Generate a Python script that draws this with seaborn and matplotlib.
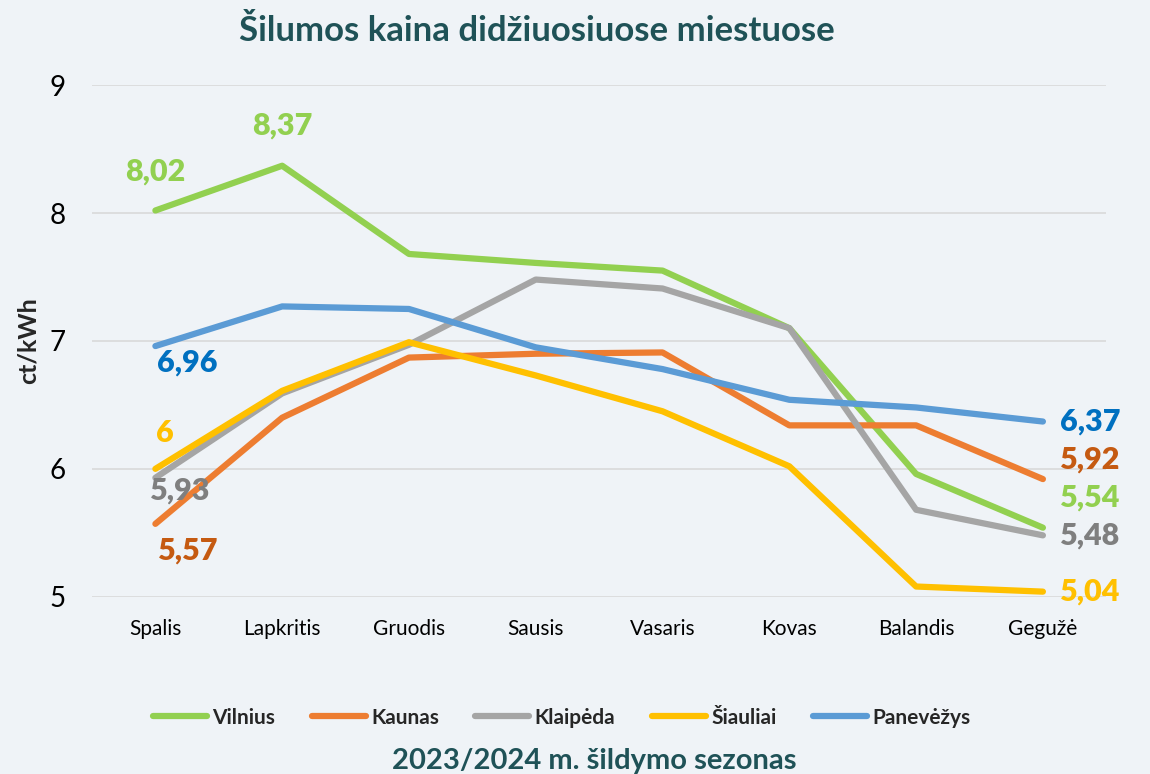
import pandas as pd
import matplotlib.pyplot as plt
import seaborn as sns

# Data
months = ["Spalis", "Lapkritis", "Gruodis", "Sausis", "Vasaris", "Kovas", "Balandis", "Gegužė"]
vilnius = [8.02, 8.37, 7.68, 7.61, 7.55, 7.10, 5.96, 5.54]
kaunas = [5.57, 6.40, 6.87, 6.90, 6.91, 6.34, 6.34, 5.92]
klaipeda = [5.93, 6.59, 6.97, 7.48, 7.41, 7.10, 5.68, 5.48]
siauliai = [6.00, 6.61, 6.99, 6.73, 6.45, 6.02, 5.08, 5.04]
panevezys = [6.96, 7.27, 7.25, 6.95, 6.78, 6.54, 6.48, 6.37]

cities = ["Vilnius", "Kaunas", "Klaipėda", "Šiauliai", "Panevėžys"]
series = [vilnius, kaunas, klaipeda, siauliai, panevezys]
line_colors = ["#92d050", "#ed7d31", "#a5a5a5", "#ffc000", "#5b9bd5"]
label_colors = ["#92d050", "#c55a11", "#7f7f7f", "#ffc000", "#0070c0"]

rows = []
for city, vals in zip(cities, series):
    for m, v in zip(months, vals):
        rows.append({"month": m, "city": city, "value": v})
df = pd.DataFrame(rows)

bg = "#eff3f7"
title_col = "#1f5257"

sns.set_theme(style="white")
plt.rcParams["font.family"] = ["Lato", "DejaVu Sans"]

fig = plt.figure(figsize=(11.5, 7.74), dpi=100, facecolor=bg)
ax = fig.add_axes([0.08, 0.229, 0.882, 0.661], facecolor=bg)

sns.lineplot(data=df, x="month", y="value", hue="city", palette=line_colors,
             linewidth=4.5, sort=False, ax=ax, legend=True)
for ln in ax.lines:
    ln.set_solid_capstyle("round")
    ln.set_solid_joinstyle("round")

ax.set_ylim(5, 9)
ax.set_xlim(-0.5, len(months) - 0.5)
ax.set_yticks([5, 6, 7, 8, 9])
ax.yaxis.grid(True, color="#d9d9d9", linewidth=1.2)
ax.set_axisbelow(True)
for s in ax.spines.values():
    s.set_visible(False)
ax.tick_params(axis="y", labelsize=20, pad=19, length=0, colors="black")
ax.tick_params(axis="x", labelsize=15, pad=16, length=0, colors="black")
ax.set_xlabel("")
ax.set_ylabel("ct/kWh", fontsize=18, fontweight="bold")
ax.yaxis.set_label_coords(-0.052, 0.5)

fig.text(0.467, 0.96, "Šilumos kaina didžiuosiuose miestuose", ha="center", va="center",
         fontsize=25, fontweight="bold", color=title_col)

# Data labels: first and last month
def lab(i, j, text, dx, dy, ha="center"):
    ax.annotate(text, (j, series[i][j]), xytext=(dx, dy), textcoords="offset points",
                ha=ha, va="center", fontsize=22, fontweight="heavy", color=label_colors[i])

lab(0, 0, "8,02", 0, 28)
lab(0, 1, "8,37", 0, 29)
lab(4, 0, "6,96", 23, -12)
lab(3, 0, "6", 7, 26)
lab(2, 0, "5,93", 18, -9)
lab(1, 0, "5,57", 24, -19)
last = len(months) - 1
lab(4, last, "6,37", 12, 0, ha="left")
lab(1, last, "5,92", 12, 14, ha="left")
lab(0, last, "5,54", 12, 22, ha="left")
lab(2, last, "5,48", 12, 0, ha="left")
lab(3, last, "5,04", 12, 0, ha="left")

handles, labels = ax.get_legend_handles_labels()
ax.legend(handles, labels, loc="upper center", bbox_to_anchor=(0.463, -0.18), ncol=5,
          frameon=False, handlelength=2.6, handletextpad=0.25, columnspacing=1.75,
          prop={"size": 15, "weight": "bold"})

fig.text(0.517, 0.017, "2023/2024 m. šildymo sezonas", ha="center", va="center",
         fontsize=21, fontweight="bold", color=title_col)

fig.savefig("out.png", dpi=100, facecolor=bg)
